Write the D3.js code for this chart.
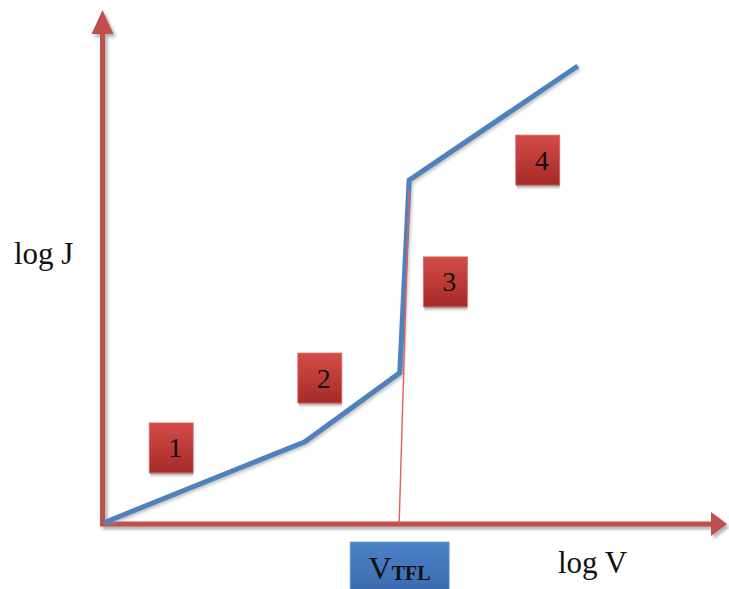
<!DOCTYPE html>
<html>
<head>
<meta charset="utf-8">
<script src="https://cdn.jsdelivr.net/npm/d3@7"></script>
<style>
  html, body { margin: 0; padding: 0; background: #fff; }
  svg { display: block; }
</style>
</head>
<body>
<svg id="chart" width="729" height="589"></svg>
<script>
// J–V characteristic in log–log form (arbitrary units, 0–100 on each axis)
const curveLogV = [0.3, 32.4, 47.6, 49.1, 76.1];
const curveLogJ = [0.3, 16.0, 29.4, 66.9, 89.1];

// trap-filled-limit marker: foot on the V axis, top on the steep segment
const vtflLogV = [47.5, 49.1];
const vtflLogJ = [0, 65];

// numbered regime labels
const regionLabels = ["1", "2", "3", "4"];
const regionLogV = [11.0, 34.8, 54.9, 69.7];
const regionLogJ = [14.8, 28.4, 47.1, 70.8];

const axisTitles = ["log V", "log J"];

const svg = d3.select("#chart");
const x = d3.scaleLinear().domain([0, 100]).range([102.5, 727]);
const y = d3.scaleLinear().domain([0, 100]).range([524, 10]);

const defs = svg.append("defs");
const redGrad = defs.append("linearGradient").attr("id", "redBox")
  .attr("x1", 0).attr("y1", 0).attr("x2", 0).attr("y2", 1);
redGrad.append("stop").attr("offset", "0%").attr("stop-color", "#D44C49");
redGrad.append("stop").attr("offset", "100%").attr("stop-color", "#A52A27");
const blueGrad = defs.append("linearGradient").attr("id", "blueBox")
  .attr("x1", 0).attr("y1", 0).attr("x2", 0).attr("y2", 1);
blueGrad.append("stop").attr("offset", "0%").attr("stop-color", "#4C82C6");
blueGrad.append("stop").attr("offset", "100%").attr("stop-color", "#3A69AD");
const shadowGrad = defs.append("linearGradient").attr("id", "boxShadow")
  .attr("x1", 0).attr("y1", 0).attr("x2", 0).attr("y2", 1);
shadowGrad.append("stop").attr("offset", "0%").attr("stop-color", "#8a8a8a");
shadowGrad.append("stop").attr("offset", "100%").attr("stop-color", "#ffffff").attr("stop-opacity", 0);

const soft = defs.append("filter").attr("id", "soft")
  .attr("x", "-10%").attr("y", "-10%").attr("width", "130%").attr("height", "130%");
soft.append("feGaussianBlur").attr("stdDeviation", 1.6);

// axes with arrowheads (shadow first, then the red axis)
const axisColor = "#C0504D";
const x0 = x(0), y0 = y(0), xEnd = x(100), yEnd = y(100);
function axisShapes(g, color) {
  g.append("line").attr("x1", x0).attr("y1", y0).attr("x2", x0).attr("y2", yEnd + 20)
    .attr("stroke", color).attr("stroke-width", 5);
  g.append("path").attr("d", `M${x0},${yEnd} L${x0 + 11},${yEnd + 24} L${x0 - 11},${yEnd + 24} Z`)
    .attr("fill", color);
  g.append("line").attr("x1", x0 - 2.5).attr("y1", y0).attr("x2", xEnd - 14).attr("y2", y0)
    .attr("stroke", color).attr("stroke-width", 5);
  g.append("path").attr("d", `M${xEnd},${y0} L${xEnd - 16},${y0 - 12} L${xEnd - 16},${y0 + 12} Z`)
    .attr("fill", color);
}
const axisShadow = svg.append("g").attr("transform", "translate(2.5,3)")
  .attr("filter", "url(#soft)").attr("opacity", 0.55);
axisShapes(axisShadow, "#777");
axisShapes(svg.append("g"), axisColor);

// curve
const pts = curveLogV.map((v, i) => [v, curveLogJ[i]]);
const line = d3.line().x(d => x(d[0])).y(d => y(d[1]));
svg.append("path").datum(pts).attr("d", line)
  .attr("fill", "none").attr("stroke", "#8a8a8a").attr("stroke-width", 5)
  .attr("stroke-linejoin", "round").attr("opacity", 0.5)
  .attr("transform", "translate(1.5,2)").attr("filter", "url(#soft)");
svg.append("path").datum(pts).attr("d", line)
  .attr("fill", "none").attr("stroke", "#4F81BD").attr("stroke-width", 5)
  .attr("stroke-linejoin", "miter");

// V_TFL marker line
const vpts = vtflLogV.map((v, i) => [v, vtflLogJ[i]]);
svg.append("path").datum(vpts).attr("d", line)
  .attr("fill", "none").attr("stroke", "#E0605C").attr("stroke-width", 1.4);

// numbered boxes
const bw = 44, bh = 50;
const boxes = svg.selectAll("g.region").data(regionLabels).join("g").attr("class", "region")
  .attr("transform", (d, i) => `translate(${x(regionLogV[i]) - bw / 2},${y(regionLogJ[i]) - bh / 2})`);
boxes.append("rect").attr("x", 1).attr("y", bh).attr("width", bw - 1).attr("height", 6)
  .attr("fill", "url(#boxShadow)");
boxes.append("rect").attr("width", bw).attr("height", bh)
  .attr("fill", "url(#redBox)").attr("stroke", "#D96a67").attr("stroke-width", 0.8);
boxes.append("text").attr("x", bw / 2 + 4).attr("y", bh / 2 + 9.5)
  .attr("text-anchor", "middle")
  .attr("font-family", "'Liberation Serif', 'Times New Roman', serif")
  .attr("font-size", 28).attr("fill", "#111").text(d => d);

// V_TFL label box under the axis
const vx = x(vtflLogV[0]);
const vg = svg.append("g").attr("transform", `translate(${vx - 49},542)`);
vg.append("rect").attr("width", 99).attr("height", 52)
  .attr("fill", "url(#blueBox)").attr("stroke", "#6E9BD6").attr("stroke-width", 0.8);
const vt = vg.append("text").attr("x", 49.5).attr("y", 37).attr("text-anchor", "middle")
  .attr("font-family", "'Liberation Serif', 'Times New Roman', serif").attr("fill", "#111");
vt.append("tspan").attr("font-size", 32).text("V");
vt.append("tspan").attr("font-size", 20).attr("font-weight", "bold").attr("dy", 1).text("TFL");

// axis titles
svg.append("text").attr("x", 558).attr("y", 573)
  .attr("font-family", "'Liberation Serif', 'Times New Roman', serif")
  .attr("font-size", 31).attr("fill", "#111").text(axisTitles[0]);
svg.append("text").attr("x", 14).attr("y", 264)
  .attr("font-family", "'Liberation Serif', 'Times New Roman', serif")
  .attr("font-size", 31).attr("fill", "#111").text(axisTitles[1]);
</script>
</body>
</html>
